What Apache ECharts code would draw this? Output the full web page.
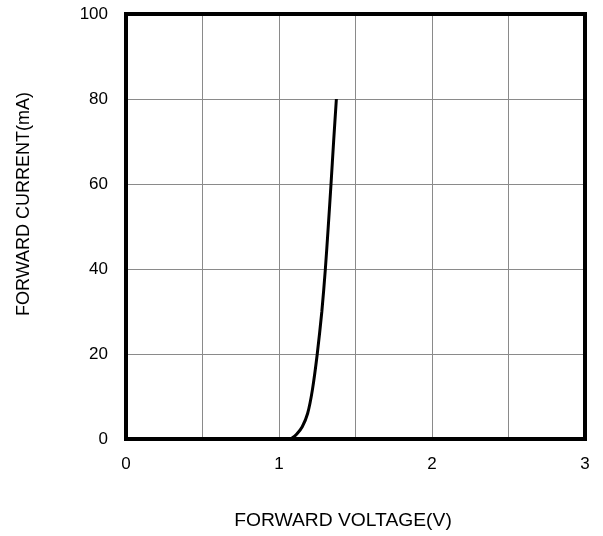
<!DOCTYPE html>
<html><head><meta charset="utf-8">
<script src="https://cdn.jsdelivr.net/npm/echarts@6/dist/echarts.min.js"></script>
<style>html,body{margin:0;padding:0;background:#fff}#c{width:603px;height:536px}</style>
</head><body><div id="c"></div>
<script>
const voltage = [0, 0.5, 1.0, 1.06, 1.085, 1.115, 1.152, 1.187, 1.218, 1.25, 1.28, 1.303, 1.322, 1.34, 1.357, 1.375];
const current = [0, 0, 0, 0, 0.2, 1.1, 2.9, 6, 11.5, 20, 30, 40, 50, 60, 70, 80];
const xTicks = [0, 1, 2, 3];
const yTicks = [0, 20, 40, 60, 80, 100];
const xName = 'FORWARD VOLTAGE(V)';
const yName = 'FORWARD CURRENT(mA)';

const chart = echarts.init(document.getElementById('c'));
const font = 'Liberation Sans, Arial, sans-serif';
const G = {left: 126, right: 18, top: 14, bottom: 97};
chart.setOption({
  animation: false,
  grid: Object.assign({show: false}, G),
  xAxis: {
    type: 'value', min: 0, max: 3, interval: 0.5,
    axisLine: {show: false}, axisTick: {show: false},
    splitLine: {show: true, lineStyle: {color: '#8a8a8a', width: 1}},
    axisLabel: {color: '#000', fontSize: 17, fontFamily: font, margin: 17,
      formatter: v => xTicks.includes(v) ? String(v) : ''}
  },
  yAxis: {
    type: 'value', min: 0, max: 100, interval: 20,
    axisLine: {show: false}, axisTick: {show: false},
    splitLine: {show: true, lineStyle: {color: '#8a8a8a', width: 1}},
    axisLabel: {color: '#000', fontSize: 17, fontFamily: font, margin: 18,
      formatter: v => yTicks.includes(v) ? String(v) : ''}
  },
  graphic: [
    {type: 'rect', z: 100, shape: {x: 126, y: 14, width: 603 - G.right - 126, height: 536 - G.bottom - 14},
      style: {fill: 'none', stroke: '#000', lineWidth: 4}},
    {type: 'text', x: 343, y: 512, scaleX: 1.07, style: {text: xName, fill: '#000', font: '18px ' + font, align: 'center'}},
    {type: 'text', x: 15, y: 204, rotation: Math.PI / 2, style: {text: yName, fill: '#000', font: '18px ' + font, align: 'center', verticalAlign: 'top'}}
  ],
  series: [{
    type: 'line', data: voltage.map((v, i) => [v, current[i]]),
    showSymbol: false, smooth: 0.25, z: 50,
    lineStyle: {color: '#000', width: 3}
  }]
});
</script></body></html>
